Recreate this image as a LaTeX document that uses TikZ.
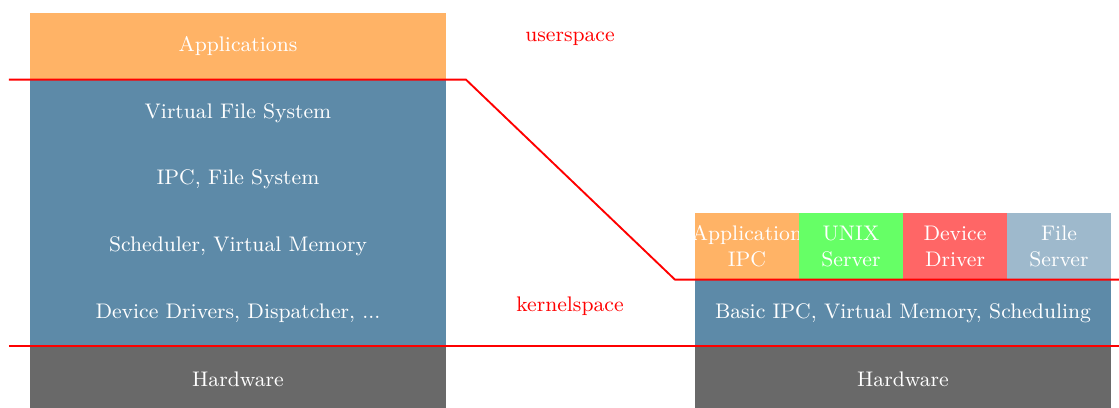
\documentclass[tikz,border=0pt]{standalone}
\usepackage{tikz}
\usetikzlibrary{positioning}
\definecolor{appOrange}{RGB}{255,179,102}
\definecolor{kernBlue}{RGB}{93,138,168}
\definecolor{hwGray}{RGB}{105,105,105}
\definecolor{srvGreen}{RGB}{102,255,102}
\definecolor{drvRed}{RGB}{255,102,102}
\definecolor{fsBlue}{RGB}{158,185,204}

\begin{document}
\begin{tikzpicture}[font=\small,
    layer/.style={minimum width=6.24cm, minimum height=1cm, inner sep=0pt, outer sep=0pt, text=white, align=center},
    cell/.style={layer, minimum width=1.56cm, text width=1.56cm},
    border/.style={red, thick}]
  \useasboundingbox (0,0) rectangle (16.785,6.12);
  % monolithic kernel
  \node[layer, fill=appOrange, anchor=north west] (apps) at (0.45,5.925) {Applications};
  \node[layer, fill=kernBlue, below=0pt of apps] (vfs) {Virtual File System};
  \node[layer, fill=kernBlue, below=0pt of vfs] (ipcfs) {IPC, File System};
  \node[layer, fill=kernBlue, below=0pt of ipcfs] (sched) {Scheduler, Virtual Memory};
  \node[layer, fill=kernBlue, below=0pt of sched] (drivers) {Device Drivers, Dispatcher, ...};
  \node[layer, fill=hwGray, below=0pt of drivers] (hwL) {Hardware};
  % microkernel
  \node[cell, fill=appOrange, anchor=north west] (appipc) at (10.425,2.925) {\makebox[1.56cm]{Application}\\IPC};
  \node[cell, fill=srvGreen, right=0pt of appipc] (unix) {UNIX\\Server};
  \node[cell, fill=drvRed, right=0pt of unix] (devdrv) {Device\\Driver};
  \node[cell, fill=fsBlue, right=0pt of devdrv] (filesrv) {File\\Server};
  \node[layer, fill=kernBlue, anchor=north west] (basic) at (appipc.south west) {Basic IPC, Virtual Memory, Scheduling};
  \node[layer, fill=hwGray, below=0pt of basic] (hwR) {Hardware};
  % user/kernel boundary
  \coordinate (uL) at (0.135,4.925);
  \coordinate (uBendA) at (6.99,4.925);
  \coordinate (uBendB) at (10.125,1.925);
  \coordinate (uR) at (16.785,1.925);
  \coordinate (hL) at (0.135,0.925);
  \coordinate (hR) at (16.785,0.925);
  \draw[border] (uL) -- (uBendA) -- (uBendB) -- (uR);
  \draw[border] (hL) -- (hR);
  \node[text=red] (user) at (8.55,5.54) {userspace};
  \node[text=red] (kernel) at (8.55,1.53) {kernelspace};
\end{tikzpicture}
\end{document}
